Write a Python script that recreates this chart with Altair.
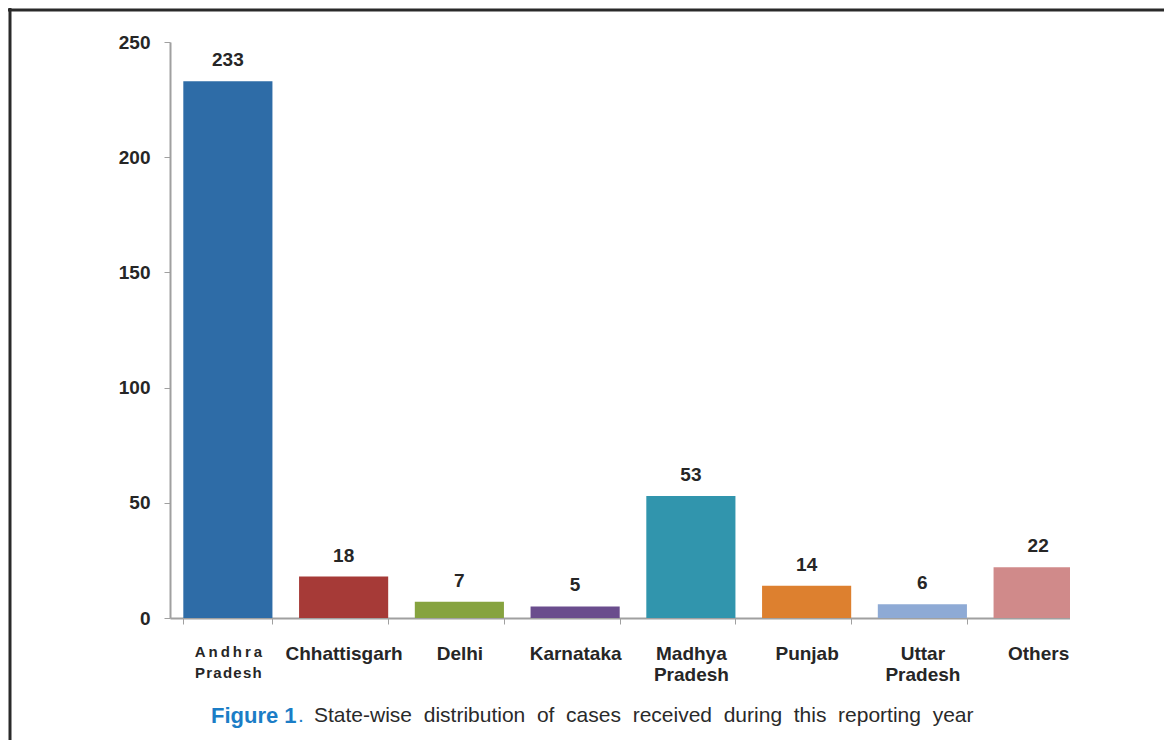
import altair as alt
import pandas as pd

states = ["Andhra Pradesh", "Chhattisgarh", "Delhi", "Karnataka",
          "Madhya Pradesh", "Punjab", "Uttar Pradesh", "Others"]
cases = [233, 18, 7, 5, 53, 14, 6, 22]
colors = ["#2e6ca7", "#a63a37", "#86a33f", "#6a4d8d",
          "#3195ad", "#dd802f", "#8eaad5", "#d08a8a"]
y_ticks = [0, 50, 100, 150, 200, 250]

df = pd.DataFrame({"state": states, "cases": cases})

W, H = 926, 576
FONT = "Liberation Sans"
TXT = "#262626"
THIN = "\u2009"
HAIR = "\u200a"
andhra1 = THIN.join("Andhra")
andhra2 = HAIR.join("Pradesh")

label_expr = ("datum.value == 'Andhra Pradesh' ? ['%s', '%s'] : split(datum.label, ' ')"
              % (andhra1, andhra2))

x = alt.X("state:N", sort=states, title=None,
          scale=alt.Scale(paddingInner=0.23, paddingOuter=0.115),
          axis=alt.Axis(labelAngle=0, labelFont=FONT, labelFontWeight="bold",
                        labelFontSize={"condition": {"test": "datum.value == 'Andhra Pradesh'", "value": 15}, "value": 19},
                        labelColor=TXT, labelPadding=20, labelLineHeight=21,
                        labelExpr=label_expr,
                        tickBand="extent", tickSize=6, tickColor="#a0a0a0",
                        domainColor="#a0a0a0", domainWidth=2, labelBaseline="top"))
y = alt.Y("cases:Q", title=None,
          scale=alt.Scale(domain=[0, 250], nice=False),
          axis=alt.Axis(values=y_ticks, grid=False, labelFont=FONT,
                        labelFontWeight="bold", labelFontSize=19, labelColor=TXT,
                        labelPadding=14, tickSize=6, tickColor="#a0a0a0",
                        domainColor="#a0a0a0", domainWidth=2))

bars = alt.Chart(df).mark_bar().encode(
    x=x, y=y,
    color=alt.Color("state:N", sort=states,
                    scale=alt.Scale(domain=states, range=colors), legend=None),
)

labels = alt.Chart(df).mark_text(
    font=FONT, fontWeight="bold", fontSize=19, color=TXT,
    baseline="alphabetic", dy=-15
).encode(x=alt.X("state:N", sort=states), y="cases:Q", text="cases:Q")

cap_df = pd.DataFrame({"a": [1]})

# the reference image is cut off just after the last bar
crop = alt.Chart(cap_df).mark_rect(color="white").encode(
    x=alt.value(900), x2=alt.value(W + 60), y=alt.value(-20), y2=alt.value(H + 12))

caption_rest = "State-wise distribution of cases received during this reporting year"
caption_rest = caption_rest.replace(" ", " \u00a0")

cap1 = alt.Chart(cap_df).mark_text(
    font=FONT, fontWeight="bold", fontSize=22, color="#1b7dc6",
    align="left", baseline="middle", text="Figure 1"
).encode(x=alt.value(41), y=alt.value(674))
cap1b = alt.Chart(cap_df).mark_text(
    font=FONT, fontSize=21, color="#1b7dc6",
    align="left", baseline="middle", text="."
).encode(x=alt.value(128), y=alt.value(674))
cap2 = alt.Chart(cap_df).mark_text(
    font=FONT, fontSize=21, color="#2a2a2a",
    align="left", baseline="middle", text=caption_rest
).encode(x=alt.value(144), y=alt.value(674))

border_top = alt.Chart(cap_df).mark_rule(color="#2a2a2a", strokeWidth=3).encode(
    x=alt.value(-162), x2=alt.value(W + 68), y=alt.value(-32))
border_left = alt.Chart(cap_df).mark_rule(color="#2a2a2a", strokeWidth=3).encode(
    x=alt.value(-160), y=alt.value(-34), y2=alt.value(H + 122))

chart = alt.layer(bars, labels, crop, cap1, cap1b, cap2, border_top, border_left).properties(
    width=W, height=H,
    autosize=alt.AutoSizeParams(type="none"),
    padding={"left": 162, "top": 34, "right": 68, "bottom": 122},
    background="white",
).configure_view(stroke=None)

chart.save("out.html", embed_options={"renderer": "svg", "actions": False})
